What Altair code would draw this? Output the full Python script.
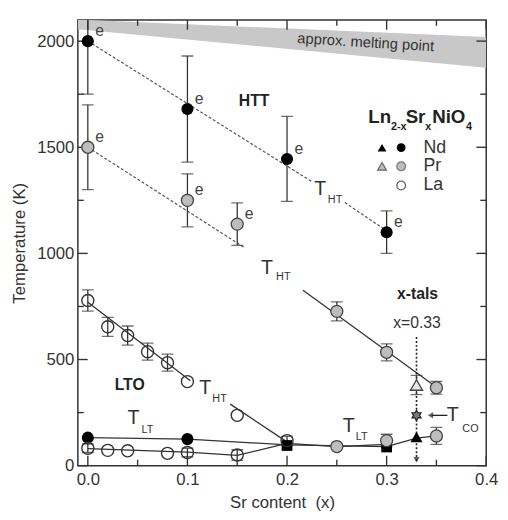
import altair as alt
import pandas as pd

FONT = "Liberation Sans"
INK = "#333333"

# ---------------- data ----------------
# high-temperature transition (T_HT), "e" = estimated
nd_ht_x = [0.0, 0.1, 0.2, 0.3]
nd_ht_y = [2000, 1680, 1445, 1100]
nd_ht_err = [250, 250, 200, 100]

pr_ht_x = [0.0, 0.1, 0.15, 0.25, 0.30, 0.35]
pr_ht_y = [1500, 1250, 1138, 727, 534, 367]
pr_ht_err = [200, 125, 100, 45, 40, 30]
pr_ht_e = [True, True, True, False, False, False]

la_ht_x = [0.0, 0.02, 0.04, 0.06, 0.08, 0.10, 0.15]
la_ht_y = [778, 654, 613, 537, 485, 396, 237]
la_ht_err = [50, 45, 45, 40, 40, 0, 0]

# low-temperature transition (T_LT)
nd_lt_x = [0.0, 0.1]
nd_lt_y = [132, 125]
nd_sq_x = [0.2, 0.3]
nd_sq_y = [95, 88]
la_lt_x = [0.0, 0.02, 0.04, 0.08, 0.10, 0.15, 0.20]
la_lt_y = [82, 72, 70, 58, 62, 50, 118]
la_lt_err = [20, 0, 0, 0, 20, 25, 20]
pr_lt_x = [0.25, 0.30, 0.35]
pr_lt_y = [90, 118, 140]
pr_lt_err = [0, 30, 40]

# single crystals x = 0.33
xtal_x = [0.33]
nd_tri_y = [135]
pr_tri_y = [380]
pr_tri_err = [45]
tco_y = [237]

# guide lines (segment id, x, y)
solid_seg = ["la_a", "la_a", "la_b", "la_b", "pr", "pr",
             "nd_lt", "nd_lt", "nd_lt", "nd_lt", "nd_lt", "nd_lt",
             "la_lt", "la_lt", "la_lt", "la_lt", "la_lt", "la_lt"]
solid_x = [0.0, 0.103, 0.143, 0.198, 0.216, 0.347,
           0.0, 0.1, 0.2, 0.3, 0.33, 0.35,
           0.0, 0.1, 0.15, 0.2, 0.25, 0.3]
solid_y = [770, 400, 290, 118, 826, 380,
           132, 125, 98, 90, 130, 140,
           80, 64, 48, 105, 90, 100]

dash_seg = ["nd_a", "nd_a", "nd_b", "nd_b", "pr_a", "pr_a"]
dash_x = [0.0, 0.226, 0.258, 0.305, 0.0, 0.158]
dash_y = [2000, 1335, 1240, 1090, 1500, 1025]

# approximate melting point band
band_x = [-0.01, 0.4]
band_top = [2102, 2019]
band_bot = [2056, 1875]

# axis ticks
x_major = [0.0, 0.1, 0.2, 0.3, 0.4]
x_minor = [0.05, 0.15, 0.25, 0.35]
y_major = [0, 500, 1000, 1500, 2000]
y_minor = [250, 750, 1250, 1750]

# annotations
t_x = [0.2333, 0.180, 0.118, 0.046, 0.262, 0.3665]
t_y = [1303, 931, 365, 226, 188, 239]
sub_text = ["HT", "HT", "HT", "LT", "LT", "CO"]
sub_x = [0.241, 0.189, 0.125, 0.054, 0.269, 0.376]
sub_y = [1252, 890, 314, 170, 137, 174]

bold_text = ["HTT", "LTO", "x-tals"]
bold_x = [0.167, 0.042, 0.331]
bold_y = [1717, 378, 806]

legend_main = ["Ln", "Sr", "NiO"]
legend_main_x = [0.2816, 0.3191, 0.3457]
legend_sub = ["2-x", "x", "4"]
legend_sub_x = [0.3043, 0.3388, 0.3797]
legend_main_y = 1614
legend_sub_y = 1580
legend_names = ["Nd", "Pr", "La"]
legend_rows_y = [1498, 1410, 1320]
legend_tri_x = 0.2954
legend_circ_x = 0.3146
legend_text_x = 0.337

# ---------------- layout ----------------
W, H = 415, 453
X0, X1 = -0.01, 0.4
Y0, Y1 = 0, 2100
PX_X = W / (X1 - X0)   # pixels per x unit
PX_Y = H / (Y1 - Y0)   # pixels per y unit
xs = alt.Scale(domain=[X0, X1], nice=False, zero=False)
ys = alt.Scale(domain=[Y0, Y1], nice=False, zero=False)
common_axis = dict(grid=False, domain=False, ticks=False, labelFont=FONT, titleFont=FONT,
                   labelFontSize=17, titleFontSize=17, labelColor=INK, titleColor=INK,
                   titleFontWeight="normal", labelFlush=False)
xaxis = alt.Axis(title="Sr content\u00a0 (x)", values=x_major, format=".1f",
                 labelPadding=6, titlePadding=8, **common_axis)
yaxis = alt.Axis(title="Temperature (K)", values=y_major, format="d",
                 labelPadding=4, titlePadding=8, **common_axis)


def X(f="x"):
    return alt.X(f"{f}:Q", scale=xs, axis=xaxis)


def Y(f="y"):
    return alt.Y(f"{f}:Q", scale=ys, axis=yaxis)


layers = []

# melting band
band_df = pd.DataFrame({"x": band_x, "y": band_top, "y2": band_bot})
layers.append(alt.Chart(band_df).mark_area(color="#c8c8c8", clip=True).encode(
    x=X(), y=Y(), y2="y2:Q"))

layers.append(alt.Chart(pd.DataFrame({"x": [0.279], "y": [1995], "t": ["approx. melting point"]}))
              .mark_text(font=FONT, fontSize=15, color=INK, angle=3.5)
              .encode(x=X(), y=Y(), text="t:N"))

# inward ticks on all four sides
tick_rows = []
for vals, ln in ((x_major, 10), (x_minor, 6)):
    for v in vals:
        tick_rows.append({"x": v, "x2": v, "y": Y0, "y2": Y0 + ln / PX_Y})
        tick_rows.append({"x": v, "x2": v, "y": Y1, "y2": Y1 - ln / PX_Y})
for vals, ln in ((y_major, 10), (y_minor, 6)):
    for v in vals:
        tick_rows.append({"x": X0, "x2": X0 + ln / PX_X, "y": v, "y2": v})
        tick_rows.append({"x": X1, "x2": X1 - ln / PX_X, "y": v, "y2": v})
tick_df = pd.DataFrame(tick_rows)
layers.append(alt.Chart(tick_df).mark_rule(color=INK, strokeWidth=1.4).encode(
    x=X(), x2="x2:Q", y=Y(), y2="y2:Q"))

# guide lines
solid_df = pd.DataFrame({"seg": solid_seg, "x": solid_x, "y": solid_y})
layers.append(alt.Chart(solid_df).mark_line(color=INK, strokeWidth=1.3).encode(
    x=X(), y=Y(), detail="seg:N"))
dash_df = pd.DataFrame({"seg": dash_seg, "x": dash_x, "y": dash_y})
layers.append(alt.Chart(dash_df).mark_line(color="#555", strokeWidth=1.2, strokeDash=[3, 2]).encode(
    x=X(), y=Y(), detail="seg:N"))

# dotted vertical line at x = 0.33
vdf = pd.DataFrame({"x": xtal_x, "y": [606], "y2": [20]})
layers.append(alt.Chart(vdf).mark_rule(color="#222", strokeWidth=1.6, strokeDash=[2, 2]).encode(
    x=X(), y=Y(), y2="y2:Q"))
layers.append(alt.Chart(pd.DataFrame({"x": xtal_x, "y": [28]})).mark_point(
    shape="triangle-down", filled=True, color="#222", size=40).encode(x=X(), y=Y()))

# T_CO arrow
adf = pd.DataFrame({"x": [0.345], "x2": [0.361], "y": tco_y})
layers.append(alt.Chart(adf).mark_rule(color="#222", strokeWidth=1.3).encode(
    x=X(), x2="x2:Q", y=Y()))
layers.append(alt.Chart(pd.DataFrame({"x": [0.344], "y": tco_y})).mark_point(
    shape="triangle-left", filled=True, color="#222", size=40).encode(x=X(), y=Y()))

# error bars
ex = nd_ht_x + pr_ht_x + la_ht_x + la_lt_x + pr_lt_x + xtal_x
ey = nd_ht_y + pr_ht_y + la_ht_y + la_lt_y + pr_lt_y + pr_tri_y
ee = nd_ht_err + pr_ht_err + la_ht_err + la_lt_err + pr_lt_err + pr_tri_err
err_df = pd.DataFrame({"x": ex, "lo": [a - b for a, b in zip(ey, ee)],
                       "hi": [a + b for a, b in zip(ey, ee)], "e": ee})
err_df = err_df[err_df["e"] > 0]
layers.append(alt.Chart(err_df).mark_rule(color=INK, strokeWidth=1.3, clip=True).encode(
    x=X(), y=Y("lo"), y2="hi:Q"))
layers.append(alt.Chart(err_df).mark_tick(orient="horizontal", color=INK, size=12,
                                          thickness=1.3, clip=True).encode(x=X(), y=Y("lo")))
layers.append(alt.Chart(err_df).mark_tick(orient="horizontal", color=INK, size=12,
                                          thickness=1.3, clip=True).encode(x=X(), y=Y("hi")))

# points
SZ = 150
black_df = pd.DataFrame({"x": nd_ht_x + nd_lt_x, "y": nd_ht_y + nd_lt_y})
layers.append(alt.Chart(black_df).mark_point(shape="circle", filled=True, color="black",
                                             size=SZ, opacity=1).encode(x=X(), y=Y()))
sq_df = pd.DataFrame({"x": nd_sq_x, "y": nd_sq_y})
layers.append(alt.Chart(sq_df).mark_point(shape="square", filled=True, color="black",
                                          size=120, opacity=1).encode(x=X(), y=Y()))
gray_df = pd.DataFrame({"x": pr_ht_x + pr_lt_x, "y": pr_ht_y + pr_lt_y})
layers.append(alt.Chart(gray_df).mark_point(shape="circle", filled=True, fill="#bdbdbd",
                                            stroke="#444", strokeWidth=1.3, size=SZ,
                                            opacity=1).encode(x=X(), y=Y()))
open_df = pd.DataFrame({"x": la_ht_x + la_lt_x, "y": la_ht_y + la_lt_y})
layers.append(alt.Chart(open_df).mark_point(shape="circle", filled=False, stroke="#333",
                                            strokeWidth=1.4, size=SZ,
                                            opacity=1).encode(x=X(), y=Y()))
layers.append(alt.Chart(pd.DataFrame({"x": xtal_x, "y": nd_tri_y})).mark_point(
    shape="triangle-up", filled=True, color="black", size=SZ, opacity=1).encode(x=X(), y=Y()))
layers.append(alt.Chart(pd.DataFrame({"x": xtal_x, "y": pr_tri_y})).mark_point(
    shape="triangle-up", filled=True, fill="#e6e6e6", stroke="#444", strokeWidth=1.4,
    size=SZ, opacity=1).encode(x=X(), y=Y()))
STAR = ("M0,-1L0.29,-0.5L0.87,-0.5L0.58,0L0.87,0.5L0.29,0.5L0,1L-0.29,0.5"
        "L-0.87,0.5L-0.58,0L-0.87,-0.5L-0.29,-0.5Z")
layers.append(alt.Chart(pd.DataFrame({"x": xtal_x, "y": tco_y})).mark_point(
    shape=STAR, filled=True, fill="#777", stroke="#222", strokeWidth=1.2, size=110,
    opacity=1).encode(x=X(), y=Y()))

# "e" labels
e_x = nd_ht_x + [x for x, f in zip(pr_ht_x, pr_ht_e) if f]
e_y = nd_ht_y + [y for y, f in zip(pr_ht_y, pr_ht_e) if f]
e_df = pd.DataFrame({"x": e_x, "y": e_y, "t": ["e"] * len(e_x)})
layers.append(alt.Chart(e_df).mark_text(font=FONT, fontSize=16, color="#444", dx=12, dy=-10)
              .encode(x=X(), y=Y(), text="t:N"))

# T labels with subscripts
t_df = pd.DataFrame({"x": t_x, "y": t_y, "t": ["T"] * len(t_x)})
layers.append(alt.Chart(t_df).mark_text(font=FONT, fontSize=20, color=INK)
              .encode(x=X(), y=Y(), text="t:N"))
s_df = pd.DataFrame({"x": sub_x, "y": sub_y, "t": sub_text})
layers.append(alt.Chart(s_df).mark_text(font=FONT, fontSize=11, color=INK, align="left")
              .encode(x=X(), y=Y(), text="t:N"))

b_df = pd.DataFrame({"x": bold_x, "y": bold_y, "t": bold_text})
layers.append(alt.Chart(b_df).mark_text(font=FONT, fontSize=16, fontWeight="bold", color="#222")
              .encode(x=X(), y=Y(), text="t:N"))
layers.append(alt.Chart(pd.DataFrame({"x": [0.3305], "y": [672], "t": ["x=0.33"]}))
              .mark_text(font=FONT, fontSize=16, color=INK).encode(x=X(), y=Y(), text="t:N"))

# legend block
lm = pd.DataFrame({"x": legend_main_x, "y": [legend_main_y] * 3, "t": legend_main})
layers.append(alt.Chart(lm).mark_text(font=FONT, fontSize=19, fontWeight="bold", color="#222",
                                      align="left", baseline="alphabetic")
              .encode(x=X(), y=Y(), text="t:N"))
ls = pd.DataFrame({"x": legend_sub_x, "y": [legend_sub_y] * 3, "t": legend_sub})
layers.append(alt.Chart(ls).mark_text(font=FONT, fontSize=11, fontWeight="bold", color="#222",
                                      align="left", baseline="alphabetic")
              .encode(x=X(), y=Y(), text="t:N"))
ln = pd.DataFrame({"x": [legend_text_x] * 3, "y": legend_rows_y, "t": legend_names})
layers.append(alt.Chart(ln).mark_text(font=FONT, fontSize=18, color=INK, align="left")
              .encode(x=X(), y=Y(), text="t:N"))
LS = 80
layers.append(alt.Chart(pd.DataFrame({"x": [legend_tri_x], "y": [legend_rows_y[0]]})).mark_point(
    shape="triangle-up", filled=True, color="black", size=LS, opacity=1).encode(x=X(), y=Y()))
layers.append(alt.Chart(pd.DataFrame({"x": [legend_tri_x], "y": [legend_rows_y[1]]})).mark_point(
    shape="triangle-up", filled=True, fill="#bdbdbd", stroke="#666", strokeWidth=1.2, size=LS,
    opacity=1).encode(x=X(), y=Y()))
layers.append(alt.Chart(pd.DataFrame({"x": [legend_circ_x], "y": [legend_rows_y[0]]})).mark_point(
    shape="circle", filled=True, color="black", size=LS, opacity=1).encode(x=X(), y=Y()))
layers.append(alt.Chart(pd.DataFrame({"x": [legend_circ_x], "y": [legend_rows_y[1]]})).mark_point(
    shape="circle", filled=True, fill="#bdbdbd", stroke="#777", strokeWidth=1.2, size=LS,
    opacity=1).encode(x=X(), y=Y()))
layers.append(alt.Chart(pd.DataFrame({"x": [legend_circ_x], "y": [legend_rows_y[2]]})).mark_point(
    shape="circle", filled=False, stroke="#666", strokeWidth=1.3, size=LS,
    opacity=1).encode(x=X(), y=Y()))

chart = alt.layer(*layers).properties(
    width=W, height=H,
    padding={"left": 71, "top": 8, "right": 14, "bottom": 43},
    autosize=alt.AutoSizeParams(type="none"),
    background="white",
).configure_view(stroke="#333", strokeWidth=1.5)

chart.save("out.html", embed_options={"renderer": "svg", "actions": False})
